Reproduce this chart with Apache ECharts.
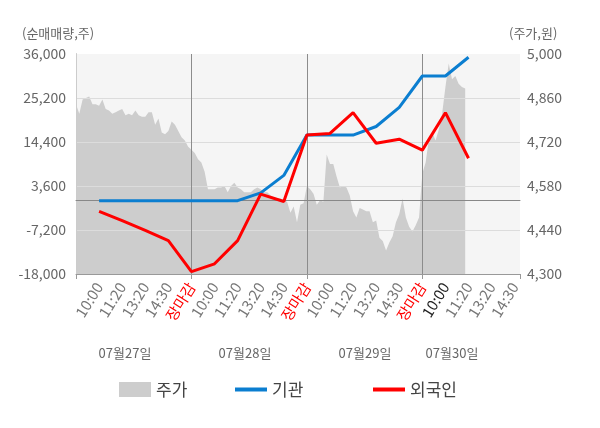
<!DOCTYPE html>
<html>
<head>
<meta charset="utf-8">
<script src="https://cdn.jsdelivr.net/npm/echarts@6/dist/echarts.min.js"></script>
<style>
  html, body { margin: 0; padding: 0; background: #fff; }
  #chart { width: 600px; height: 428px; }
</style>
</head>
<body>
<div id="chart"></div>
<script>
// x positions are in "slots": 5 slots per trading day, day separators at 0, 5, 10, 15
var timeLabels = ['', '10:00', '11:20', '13:20', '14:30', '장마감',
                  '10:00', '11:20', '13:20', '14:30', '장마감',
                  '10:00', '11:20', '13:20', '14:30', '장마감',
                  '10:00', '11:20', '13:20', '14:30'];
var dayLabels = ['07월27일', '07월28일', '07월29일', '07월30일'];

// cumulative net buying (주), one value per slot from slot 1
var instNet = [0, 0, 0, 0, 0, 0, 0, 1900, 6200, 16100, 16100, 16100, 18200, 22900, 30600, 30600, 35200];
var foreignNet = [-2650, -4900, -7300, -9800, -17400, -15500, -9800, 1600, -200, 16100, 16500, 21600, 14100, 15100, 12400, 21600, 10400];

// intraday price (원), 7 samples per slot
var priceDay1 = [4840, 4810, 4855, 4860, 4865, 4840, 4840, 4835, 4855, 4825,
                 4820, 4810, 4815, 4820, 4825, 4805, 4810, 4805, 4820, 4805,
                 4800, 4800, 4815, 4815, 4775, 4795, 4750, 4745, 4755, 4785,
                 4775, 4755, 4735, 4725, 4705];
var priceDay2 = [4695, 4685, 4665, 4655, 4625, 4570, 4570, 4570, 4575, 4575,
                 4580, 4560, 4580, 4590, 4575, 4570, 4560, 4560, 4560, 4570,
                 4575, 4570, 4560, 4560, 4550, 4545, 4540, 4540, 4535, 4530,
                 4495, 4515, 4465, 4520, 4525];
var priceDay3 = [4580, 4570, 4555, 4520, 4535, 4530, 4680, 4650, 4650, 4610,
                 4575, 4580, 4575, 4550, 4500, 4480, 4510, 4505, 4500, 4500,
                 4465, 4470, 4415, 4405, 4375, 4400, 4420, 4465, 4490, 4540,
                 4480, 4450, 4435, 4455, 4480];
var priceDay4 = [4620, 4655, 4730, 4750, 4725, 4760, 4810, 4895, 4970, 4920,
                 4930, 4905, 4895, 4890];

var FONT = 'Noto Sans CJK KR';
var SLOT_MAX = 19.23;

var pricePoints = [];
[priceDay1, priceDay2, priceDay3, priceDay4].forEach(function (day, d) {
    day.forEach(function (p, j) {
        pricePoints.push([d * 5 + j / 7, p]);
    });
});

function toPoints(arr) {
    return arr.map(function (v, i) { return [i + 1, v]; });
}

function fmt(v) {
    return v.toLocaleString('en-US');
}

var legendText = { fontSize: 17, color: '#444', fontFamily: FONT };

var chart = echarts.init(document.getElementById('chart'));
var option = {
    animation: false,
    textStyle: { fontFamily: FONT },
    grid: {
        left: 76, right: 80, top: 54, bottom: 154,
        show: true, backgroundColor: '#f5f5f5', borderWidth: 0
    },
    legend: [
        { left: 114, top: 376, itemWidth: 32, itemHeight: 15, textStyle: legendText,
          data: [{ name: '주가', icon: 'rect' }] },
        { left: 230, top: 376, itemWidth: 32, itemHeight: 4, textStyle: legendText,
          data: [{ name: '기관', icon: 'rect' }] },
        { left: 368, top: 376, itemWidth: 32, itemHeight: 4, textStyle: legendText,
          data: [{ name: '외국인', icon: 'rect' }] }
    ],
    xAxis: [
        {   // day separators + bottom line
            type: 'value', position: 'bottom', min: 0, max: SLOT_MAX, interval: 5, z: 3,
            axisLine: { show: true, onZero: false, lineStyle: { color: '#999' } },
            axisTick: { show: true, length: 5, lineStyle: { color: '#999' } },
            axisLabel: { show: false },
            splitLine: { show: true, showMinLine: false, showMaxLine: false,
                         lineStyle: { color: '#8c8c8c', width: 1 } }
        },
        {   // time labels
            type: 'value', position: 'bottom', offset: 0, min: 0, max: SLOT_MAX, interval: 1, z: 3,
            axisLine: { show: false, onZero: false }, axisTick: { show: false }, splitLine: { show: false },
            axisLabel: {
                rotate: 58, margin: 10, fontSize: 15, fontFamily: FONT,
                showMaxLabel: false,
                formatter: function (v) {
                    return Number.isInteger(v) ? (timeLabels[v] || '') : '';
                },
                color: function (v) {
                    var i = Math.round(v);
                    if (timeLabels[i] === '장마감') return '#ff0000';
                    if (i === 16) return '#222';
                    return '#777';
                }
            }
        },
        {   // zero line of net buying
            type: 'value', position: 'bottom', min: 0, max: SLOT_MAX, z: 3,
            axisLine: { show: true, onZero: true, onZeroAxisIndex: 0, lineStyle: { color: '#888' } },
            axisTick: { show: false }, axisLabel: { show: false }, splitLine: { show: false }
        }
    ],
    yAxis: [
        {
            type: 'value', min: -18000, max: 36000, interval: 10800, z: 3,
            axisLine: { show: true, lineStyle: { color: '#999' } },
            axisTick: { show: false },
            axisLabel: { fontSize: 14, color: '#666', margin: 10, fontFamily: FONT, formatter: fmt },
            splitLine: { show: true, showMinLine: false, showMaxLine: false,
                         lineStyle: { color: '#dcdcdc', width: 1 } }
        },
        {
            type: 'value', position: 'right', min: 4300, max: 5000, interval: 140, z: 3,
            axisLine: { show: true, lineStyle: { color: '#ccc' } },
            axisTick: { show: false },
            axisLabel: { fontSize: 14, color: '#666', margin: 7, fontFamily: FONT, formatter: fmt },
            splitLine: { show: false }
        }
    ],
    graphic: [
        { type: 'text', x: 22, y: 33, style: { text: '(순매매량,주)', fontSize: 13, fill: '#666',
          fontFamily: FONT, verticalAlign: 'middle' } },
        { type: 'text', x: 509, y: 33, style: { text: '(주가,원)', fontSize: 13, fill: '#666',
          fontFamily: FONT, verticalAlign: 'middle' } },
        { type: 'text', x: 125, y: 353, style: { text: dayLabels[0], fontSize: 13, fill: '#666',
          fontFamily: FONT, align: 'center', verticalAlign: 'middle' } },
        { type: 'text', x: 245, y: 353, style: { text: dayLabels[1], fontSize: 13, fill: '#666',
          fontFamily: FONT, align: 'center', verticalAlign: 'middle' } },
        { type: 'text', x: 365, y: 353, style: { text: dayLabels[2], fontSize: 13, fill: '#666',
          fontFamily: FONT, align: 'center', verticalAlign: 'middle' } },
        { type: 'text', x: 452, y: 353, style: { text: dayLabels[3], fontSize: 13, fill: '#666',
          fontFamily: FONT, align: 'center', verticalAlign: 'middle' } }
    ],
    series: [
        {
            name: '주가', type: 'line', xAxisIndex: 0, yAxisIndex: 1, z: 2,
            data: pricePoints, symbol: 'none', silent: true,
            lineStyle: { width: 0 },
            itemStyle: { color: '#cdcdcd' },
            areaStyle: { color: '#cdcdcd', opacity: 1, origin: 'start' }
        },
        {
            name: '기관', type: 'line', xAxisIndex: 0, yAxisIndex: 0, z: 5,
            data: toPoints(instNet), symbol: 'none',
            lineStyle: { color: '#0b7ed0', width: 3 },
            itemStyle: { color: '#0b7ed0' }
        },
        {
            name: '외국인', type: 'line', xAxisIndex: 0, yAxisIndex: 0, z: 5,
            data: toPoints(foreignNet), symbol: 'none',
            lineStyle: { color: '#ff0000', width: 3 },
            itemStyle: { color: '#ff0000' }
        }
    ]
};
chart.setOption(option);
</script>
</body>
</html>
